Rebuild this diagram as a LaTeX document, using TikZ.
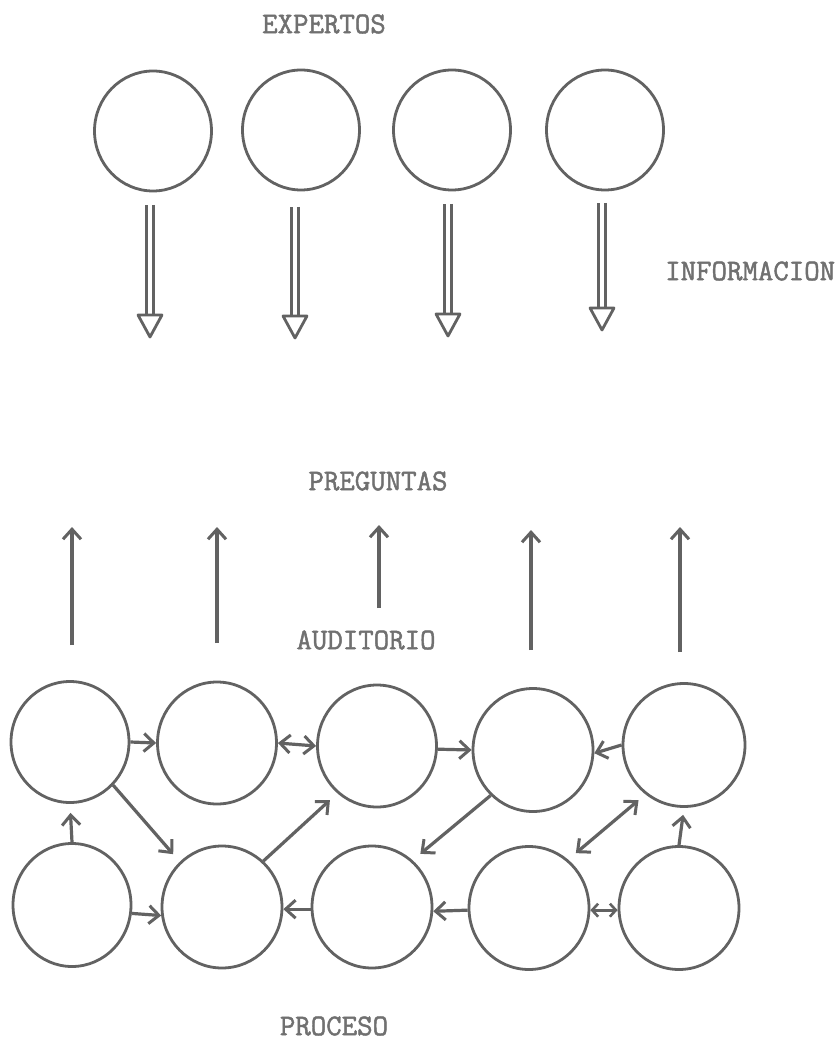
\documentclass[tikz,border=0pt]{standalone}
\usepackage{fontspec}
\usetikzlibrary{arrows.meta,calc,shapes.geometric}
\newfontfamily\twfont[FakeBold=1.6]{Latin Modern Mono}
\definecolor{ink}{RGB}{98,98,98}
\definecolor{txt}{RGB}{112,112,112}
\begin{document}
\begin{tikzpicture}[x=1pt,y=-1pt,
  bub/.style={ellipse,draw=ink,line width=2.8pt,minimum width=117pt,minimum height=120pt,inner sep=0pt},
  lbl/.style={text=txt,font=\twfont\fontsize{30}{34}\selectfont,inner sep=0pt},
  tip/.tip={Straight Barb[length=10pt,width=18pt,line width=3pt]},
  smalltip/.tip={Straight Barb[length=6pt,width=13pt,line width=2.6pt]},
  con/.style={draw=ink,line width=3.2pt,-tip},
  bicon/.style={draw=ink,line width=3.2pt,tip-tip},
  smallbicon/.style={draw=ink,line width=2.8pt,smalltip-smalltip},
  dbl/.style={draw=ink,line width=2.8pt,double=white,double distance=3.5pt},
  head/.style={draw=ink,line width=2.8pt,fill=white,line join=round}
]
\useasboundingbox (0,0) rectangle (839,1040);
\fill[white] (0,0) rectangle (839,1040);

% labels
\node[lbl] (expertos) at (324,24) {EXPERTOS};
\node[lbl,anchor=west] (informacion) at (665,271) {INFORMACION};
\node[lbl] (preguntas) at (378,481) {PREGUNTAS};
\node[lbl] (auditorio) at (366,640) {AUDITORIO};
\node[lbl] (proceso) at (334,1026) {PROCESO};

% experts
\node[bub] (e1) at (153,131) {};
\node[bub] (e2) at (301,130) {};
\node[bub] (e3) at (452,130) {};
\node[bub] (e4) at (605,130) {};

% information arrows (double shafts, open heads)
\foreach \n/\x/\t/\b in {1/150/205/337, 2/295/207/338, 3/448/204/336, 4/602/203/330}{
  \coordinate (is\n) at (\x,\t);
  \coordinate (ie\n) at (\x,\b);
  \draw[dbl] (is\n) -- ($(ie\n)+(0,-22)$);
  \draw[head] ($(ie\n)+(-12,-22)$) -- ($(ie\n)+(12,-22)$) -- (ie\n) -- cycle;
}

% question arrows
\foreach \n/\x/\b/\t in {1/72/645/527, 2/217/643/527, 3/379/608/525, 4/531/650/530, 5/680/652/527}{
  \coordinate (qs\n) at (\x,\b);
  \coordinate (qe\n) at (\x,\t);
  \draw[con] (qs\n) -- (qe\n);
}

% audience network
\node[bub,minimum width=118pt,minimum height=121pt] (t1) at (70,742) {};
\node[bub,minimum width=119pt,minimum height=122pt] (t2) at (217,743) {};
\node[bub,minimum width=119pt,minimum height=122pt] (t3) at (377,746) {};
\node[bub,minimum width=120pt,minimum height=123pt] (t4) at (533,750) {};
\node[bub,minimum width=122pt,minimum height=123pt] (t5) at (684,745) {};
\node[bub,minimum width=118pt,minimum height=123pt] (b1) at (72,905) {};
\node[bub,minimum width=120pt,minimum height=122pt] (b2) at (222,907) {};
\node[bub,minimum width=120pt,minimum height=122pt] (b3) at (372,907) {};
\node[bub,minimum width=120pt,minimum height=123pt] (b4) at (529,908) {};
\node[bub,minimum width=120pt,minimum height=123pt] (b5) at (679,908) {};

\draw[con] (t1.0) -- (t2.180);
\draw[bicon] (t2.0) -- (t3.180);
\draw[con] (t3.-3) -- (t4.180);
\draw[con] (t5.180) -- (t4.-3);
\draw[con,shorten >=9pt] (b1.90) -- (t1.270);
\draw[con,shorten >=10pt] (t1.-45) -- (b2.133);
\draw[con,shorten >=10pt] (b2.48) -- (t3.230);
\draw[con,shorten >=10pt] (t4.227) -- (b3.49);
\draw[bicon,shorten >=9pt,shorten <=10pt] (b4.51) -- (t5.232);
\draw[con,shorten >=7pt] (b5.90) -- (t5.270);
\draw[con] (b1.-8) -- (b2.188);
\draw[con] (b3.182) -- (b2.-2);
\draw[con] (b4.182) -- (b3.-4);
\draw[smallbicon] (b4.-2) -- (b5.182);
\end{tikzpicture}
\end{document}
